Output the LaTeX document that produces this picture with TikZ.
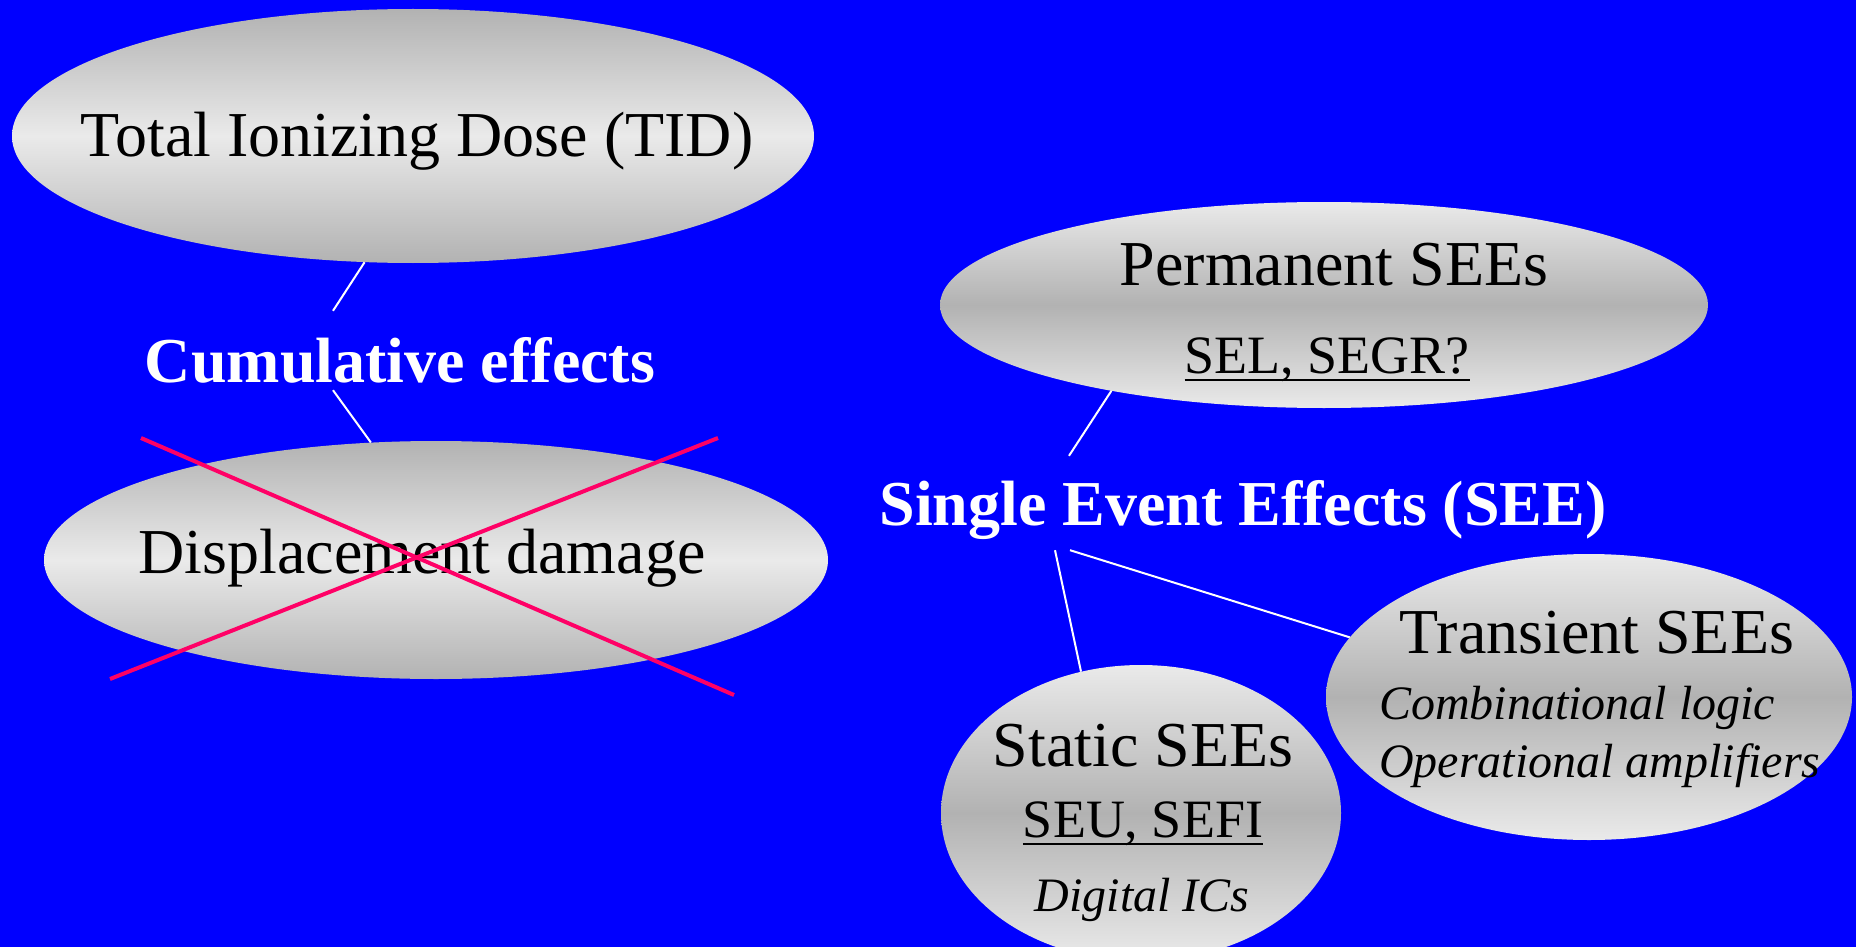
\documentclass[tikz,border=0pt]{standalone}
\usepackage{fontspec}
\setmainfont{Liberation Serif}
\usetikzlibrary{shapes.geometric}
\definecolor{bg}{RGB}{0,0,255}
\definecolor{dk}{RGB}{178,178,178}
\definecolor{lt}{RGB}{234,234,234}
\definecolor{xred}{RGB}{255,0,102}
\pgfdeclareverticalshading{edgedark}{100bp}{color(0bp)=(dk); color(25bp)=(dk); color(50bp)=(lt); color(75bp)=(dk); color(100bp)=(dk)}
\pgfdeclareverticalshading{middark}{100bp}{color(0bp)=(lt); color(25bp)=(lt); color(50bp)=(dk); color(75bp)=(lt); color(100bp)=(lt)}
\newcommand\myul[1]{\setbox0\hbox{#1}\rlap{\rule[-8pt]{\wd0}{2.5pt}}\box0}
\newcommand\szA{\fontsize{64}{72}\selectfont}
\newcommand\szB{\fontsize{54}{60}\selectfont}
\newcommand\szC{\fontsize{48}{54}\selectfont}
\begin{document}
\begin{tikzpicture}[x=1pt,y=-1pt,
  every node/.style={inner sep=0pt},
  blob/.style={ellipse, draw=none},
  lbl/.style={text=black, anchor=base},
  head/.style={text=white, anchor=base, font=\szA\bfseries},
  conn/.style={draw=white, line width=2pt},
  xline/.style={draw=xred, line width=4pt}]
\useasboundingbox (0,0) rectangle (1856,947);
\clip (0,0) rectangle (1856,947);
\fill[bg] (0,0) rectangle (1856,947);

% ellipses
\node[blob, shading=edgedark, minimum width=802pt, minimum height=254pt] (tid) at (413,136) {};
\node[blob, shading=edgedark, minimum width=784pt, minimum height=238pt] (disp) at (436,560) {};
\node[blob, shading=middark, minimum width=768pt, minimum height=206pt] (perm) at (1324,305) {};
\node[blob, shading=middark, minimum width=400pt, minimum height=296pt] (static) at (1141,813) {};
\node[blob, shading=middark, minimum width=526pt, minimum height=286pt] (trans) at (1589,697) {};

% headings
\node[head, text height=71pt, text depth=8pt] (cum) at (400,382) {Cumulative effects};
\node[head, text height=69pt, text depth=25pt] (see) at (1243,525) {Single Event Effects (SEE)};

% connectors
\draw[conn] (tid.-111) -- ([xshift=-67pt]cum.north);
\draw[conn] ([xshift=-67pt]cum.south) -- (disp.119);
\draw[conn] (perm.202) -- ([xshift=-174pt]see.north);
\draw[conn] ([xshift=-188pt]see.south) -- (static.113);
\draw[conn] ([xshift=-173pt]see.south) -- (trans.166);

% texts
\node[lbl, font=\szA] (tidt) at (417,157) {Total Ionizing Dose (TID)};
\node[lbl, font=\szA] (dispt) at (422,573) {Displacement damage};
\node[lbl, font=\szA] (permt) at (1334,285) {Permanent SEEs};
\node[lbl, font=\szB] (perms) at (1327,373) {\myul{SEL, SEGR?}};
\node[lbl, font=\szA] (statt) at (1143,766) {Static SEEs};
\node[lbl, font=\szB] (stats) at (1143,837) {\myul{SEU, SEFI}};
\node[lbl, font=\szC\itshape] (statd) at (1142,911) {Digital ICs};
\node[lbl, font=\szA] (transt) at (1597,653) {Transient SEEs};
\node[lbl, font=\szC\itshape, anchor=base west] (transc) at (1379,719) {Combinational logic};
\node[lbl, font=\szC\itshape, anchor=base west] (transo) at (1379,777) {Operational amplifiers};

% strike-through cross
\draw[xline] (141,438) -- (734,695);
\draw[xline] (110,679) -- (718,438);
\end{tikzpicture}
\end{document}
